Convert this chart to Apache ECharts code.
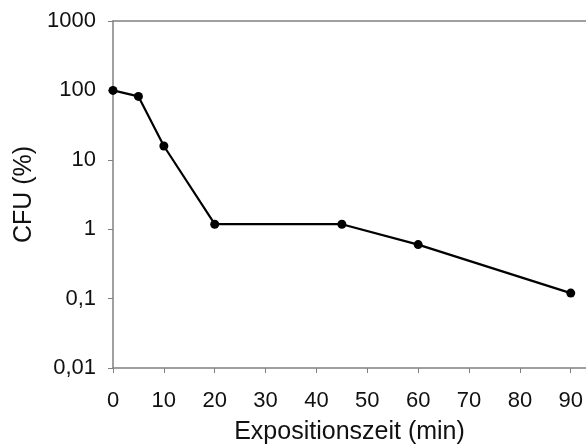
<!DOCTYPE html>
<html>
<head>
<meta charset="utf-8">
<script src="https://cdn.jsdelivr.net/npm/echarts@6/dist/echarts.min.js"></script>
<style>
  html, body { margin: 0; padding: 0; background: #fff; }
  #root { width: 586px; height: 445px; }
</style>
</head>
<body>
<div id="root"></div>
<script>
// Expositionszeit (min) und CFU (%)
var zeit = [0, 5, 10, 20, 45, 60, 90];
var cfu = [100, 82, 15.8, 1.18, 1.18, 0.6, 0.12];
var xTicks = [0, 10, 20, 30, 40, 50, 60, 70, 80, 90];

var schrift = '"Liberation Sans", Arial, sans-serif';
var achsenFarbe = '#808080';

function komma(v) {
  return String(Number(v.toPrecision(6))).replace('.', ',');
}

var option = {
  animation: false,
  grid: {left: 113, top: 21, right: 0, bottom: 77, outerBoundsMode: 'none', containLabel: false},
  xAxis: [
    {
      type: 'value',
      min: 0,
      max: 93,
      interval: 10,
      name: 'Expositionszeit (min)',
      nameLocation: 'middle',
      nameGap: 52,
      nameTextStyle: {fontFamily: schrift, fontSize: 25, color: '#111'},
      axisLine: {lineStyle: {color: achsenFarbe, width: 1.5}},
      axisTick: {show: true, inside: false, length: 5, lineStyle: {color: achsenFarbe}},
      axisLabel: {
        margin: 22,
        fontFamily: schrift,
        fontSize: 22,
        color: '#111',
        showMaxLabel: false,
        formatter: function(v) {
          return xTicks.indexOf(v) >= 0 ? String(v) : '';
        }
      },
      splitLine: {show: false}
    },
    {
      type: 'value',
      position: 'top',
      min: 0,
      max: 93,
      axisLine: {show: true, lineStyle: {color: achsenFarbe, width: 1.5}},
      axisTick: {show: false},
      axisLabel: {show: false},
      splitLine: {show: false}
    }
  ],
  yAxis: {
    type: 'log',
    logBase: 10,
    min: 0.01,
    max: 1000,
    name: 'CFU (%)',
    nameLocation: 'middle',
    nameGap: 76,
    nameTextStyle: {fontFamily: schrift, fontSize: 25, color: '#111'},
    axisLine: {show: true, lineStyle: {color: achsenFarbe, width: 1.5}},
    axisTick: {show: true, inside: false, length: 5, lineStyle: {color: achsenFarbe}},
    axisLabel: {
      margin: 17,
      fontFamily: schrift,
      fontSize: 22,
      color: '#111',
      formatter: komma
    },
    splitLine: {show: false}
  },
  series: [
    {
      type: 'line',
      data: zeit.map(function(t, i) { return [t, cfu[i]]; }),
      symbol: 'circle',
      symbolSize: 9,
      lineStyle: {color: '#000', width: 2.2},
      itemStyle: {color: '#000'}
    }
  ]
};

var myChart = echarts.init(document.getElementById('root'));
myChart.setOption(option);
</script>
</body>
</html>
